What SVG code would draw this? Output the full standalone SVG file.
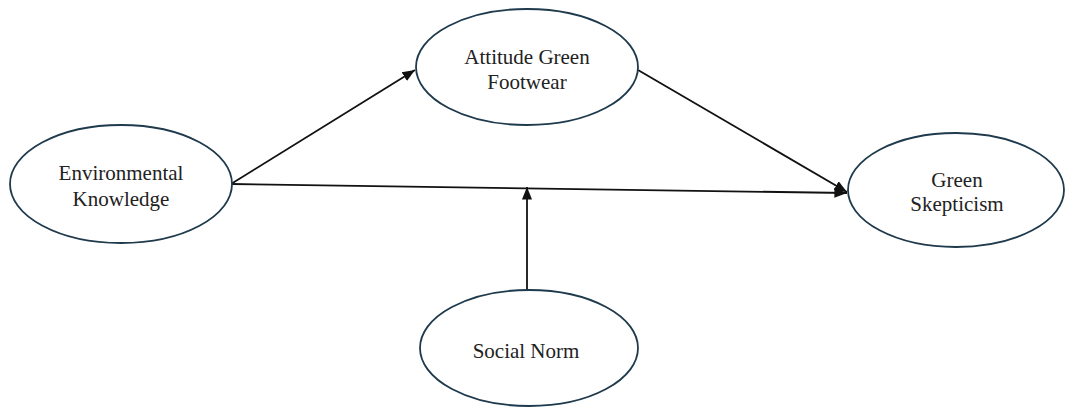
<svg xmlns="http://www.w3.org/2000/svg" width="1066" height="408" viewBox="0 0 1066 408">
<style>
.node ellipse{fill:#fff;stroke:#1f3a4c;stroke-width:1.8}
.node text{font-family:"Liberation Serif","Times New Roman",serif;font-size:21px;fill:#222;text-anchor:middle}
.edge{stroke:#111;stroke-width:1.8;fill:none;marker-end:url(#ah)}
</style>
<defs>
<marker id="ah" viewBox="0 0 10 10" refX="10" refY="5" markerWidth="7" markerHeight="7" orient="auto" markerUnits="strokeWidth">
<path d="M0,1 L10,5 L0,9 z" fill="#111"/>
</marker>
</defs>
<rect width="1066" height="408" fill="#fff"/>
<g id="connectors">
<line class="edge" x1="231" y1="184" x2="415" y2="70"/>
<line class="edge" x1="638" y1="70" x2="847" y2="192"/>
<line class="edge" x1="231" y1="184" x2="847" y2="193"/>
<line class="edge" x1="527" y1="290" x2="527" y2="187"/>
</g>
<g id="environmental-knowledge" class="node">
<ellipse cx="121" cy="184" rx="111" ry="59"/>
<text x="121" y="180">Environmental</text>
<text x="121" y="206">Knowledge</text>
</g>
<g id="attitude-green-footwear" class="node">
<ellipse cx="527" cy="67" rx="111" ry="58"/>
<text x="527" y="64">Attitude Green</text>
<text x="527" y="89">Footwear</text>
</g>
<g id="green-skepticism" class="node">
<ellipse cx="956" cy="190" rx="108" ry="57"/>
<text x="957" y="187">Green</text>
<text x="957" y="211">Skepticism</text>
</g>
<g id="social-norm" class="node">
<ellipse cx="529" cy="348" rx="109" ry="58"/>
<text x="526" y="358">Social Norm</text>
</g>
</svg>
